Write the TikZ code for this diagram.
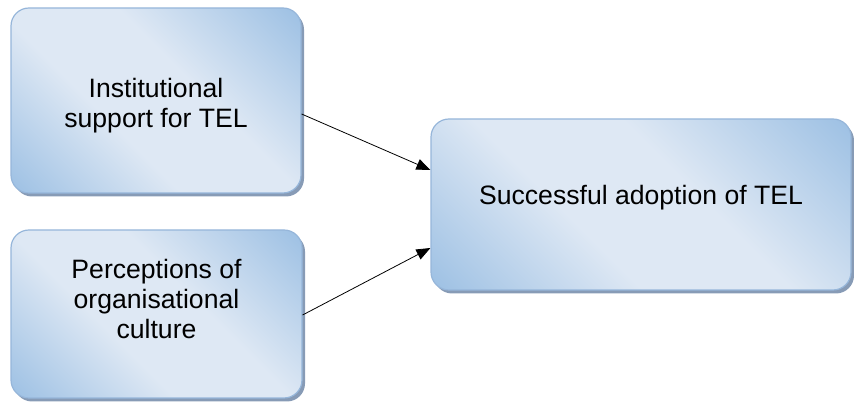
\documentclass[tikz,border=0pt]{standalone}
\usepackage{fontspec}
\setmainfont{Liberation Sans}
\usetikzlibrary{arrows.meta,shadows}
\definecolor{boxdark}{RGB}{155,191,227}
\definecolor{boxlight}{RGB}{222,232,244}
\definecolor{boxedge}{RGB}{150,182,218}
\definecolor{shadowc}{RGB}{135,155,182}
\pgfdeclareverticalshading{officeblue}{100bp}{%
  color(0bp)=(boxdark); color(14bp)=(boxdark); color(40bp)=(boxlight);
  color(58bp)=(boxlight); color(86bp)=(boxdark); color(100bp)=(boxdark)}
\begin{document}
\begin{tikzpicture}[x=1pt,y=1pt,
  box/.style={draw=boxedge, line width=1.2pt, rounded corners=18pt,
    shading=officeblue, shading angle=-45,
    inner sep=0pt,
    drop shadow={shadow xshift=3pt, shadow yshift=-3.5pt, fill=shadowc, opacity=1}},
  lbl/.style={align=center, inner sep=0pt, font=\fontsize{26.6}{30}\selectfont},
  conn/.style={-{Triangle[length=14pt,width=11pt]}, line width=0.8pt}]
\useasboundingbox (0,0) rectangle (854,406);
\node[box, minimum width=290pt, minimum height=185pt] (b1) at (156,305.5) {};
\node[box, minimum width=291pt, minimum height=168pt] (b2) at (156.5,92) {};
\node[box, minimum width=420pt, minimum height=171pt] (b3) at (641,201.5) {};
\node[lbl] (t1) at (156,300.5) {Institutional\\support for TEL};
\node[lbl] (t2) at (156.5,107) {Perceptions of\\organisational\\culture};
\node[lbl, anchor=base] (t3) at (641,201) {Successful adoption of TEL};
\draw[conn] ([yshift=-13.5pt]b1.east) -- ([yshift=34.5pt]b3.west);
\draw[conn] ([yshift=-1pt]b2.east) -- ([yshift=-43.5pt]b3.west);
\end{tikzpicture}
\end{document}
